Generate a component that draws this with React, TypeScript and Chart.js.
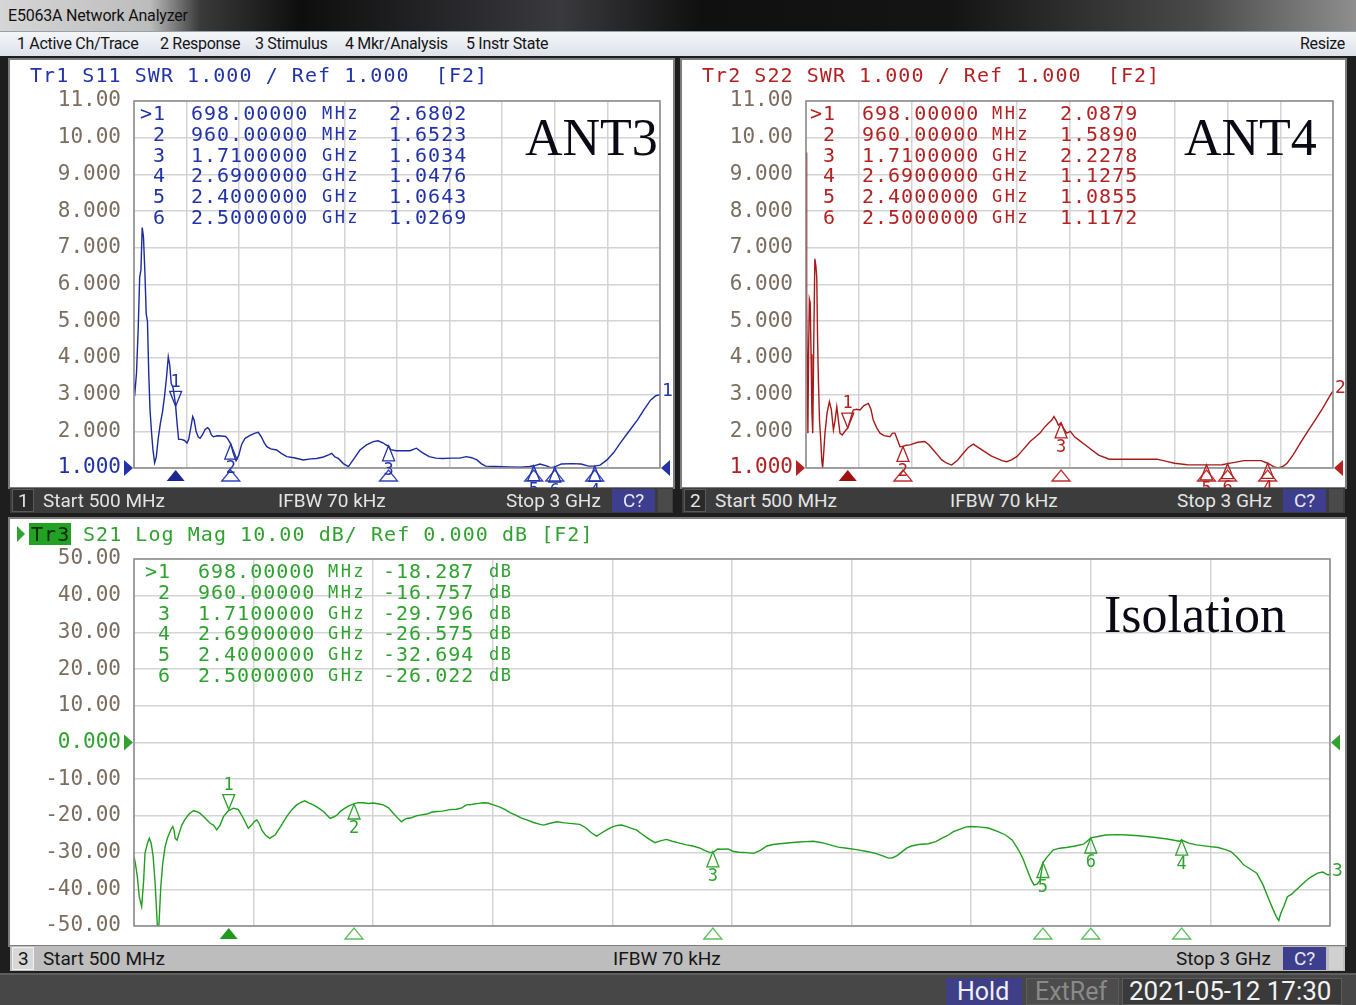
import React, { useEffect, useRef } from "react";
import { Chart, registerables } from "chart.js";

Chart.register(...registerables);

// ---------------- data ----------------
const freqStartMHz = 500;
const freqStopMHz = 3000;
const freqStepMHz = 250;

const markerNames = [">1", " 2", " 3", " 4", " 5", " 6"];
const markerFreqsMHz = [698, 960, 1710, 2690, 2400, 2500];
const markerFreqText = ["698.00000", "960.00000", "1.7100000", "2.6900000", "2.4000000", "2.5000000"];
const markerUnitText = ["MHz", "MHz", "GHz", "GHz", "GHz", "GHz"];

const s11MarkerValues = [2.6802, 1.6523, 1.6034, 1.0476, 1.0643, 1.0269];
const s22MarkerValues = [2.0879, 1.589, 2.2278, 1.1275, 1.0855, 1.1172];
const s21MarkerValues = [-18.287, -16.757, -29.796, -26.575, -32.694, -26.022];

const swrTicks = [1, 11, 1]; // min, max, step
const dbTicks = [-50, 50, 10];

const menuItems = ["1 Active Ch/Trace", "2 Response", "3 Stimulus", "4 Mkr/Analysis", "5 Instr State"];

const s11Freq = [500, 505, 512, 520, 527, 533, 539, 545, 552, 558, 564, 570, 576, 583, 590, 598, 606, 615, 625, 636, 646, 655, 663, 670, 677, 685, 692, 698, 705, 712, 725, 740, 752, 760, 770, 779, 786, 795, 805, 814, 825, 838, 850, 858, 868, 877, 895, 915, 935, 945, 960, 972, 985, 998, 1012, 1028, 1050, 1075, 1091, 1105, 1120, 1131, 1150, 1178, 1200, 1226, 1260, 1305, 1340, 1368, 1400, 1425, 1440, 1455, 1471, 1495, 1519, 1545, 1574, 1605, 1637, 1660, 1685, 1700, 1710, 1720, 1745, 1790, 1812, 1842, 1870, 1903, 1935, 1965, 2010, 2048, 2079, 2105, 2130, 2150, 2171, 2220, 2280, 2336, 2380, 2400, 2430, 2460, 2481, 2500, 2532, 2580, 2625, 2660, 2690, 2715, 2748, 2780, 2810, 2850, 2893, 2925, 2955, 2980, 3000];
const s11Swr = [3.3, 3.1, 3.6, 4.8, 6.2, 6.4, 7.55, 7.3, 6.3, 5.2, 5.0, 3.6, 2.6, 2.0, 1.5, 1.14, 1.3, 1.8, 2.2, 2.55, 3.0, 3.5, 4.03, 3.8, 3.3, 3.2, 2.95, 2.68, 2.2, 1.78, 1.78, 1.75, 1.68, 1.78, 2.1, 2.4, 2.3, 2.0, 1.85, 1.81, 1.9, 2.05, 2.1, 2.05, 1.9, 1.85, 1.88, 1.87, 1.86, 1.8, 1.65, 1.4, 1.2, 1.35, 1.65, 1.81, 1.88, 1.95, 1.97, 1.85, 1.68, 1.58, 1.52, 1.49, 1.4, 1.31, 1.28, 1.22, 1.25, 1.26, 1.3, 1.36, 1.4, 1.3, 1.26, 1.12, 1.04, 1.25, 1.49, 1.63, 1.72, 1.74, 1.68, 1.62, 1.6, 1.5, 1.47, 1.47, 1.47, 1.54, 1.42, 1.31, 1.27, 1.26, 1.27, 1.27, 1.31, 1.28, 1.22, 1.12, 1.05, 1.04, 1.03, 1.02, 1.04, 1.06, 1.11, 1.06, 1.01, 1.03, 1.11, 1.12, 1.11, 1.05, 1.05, 1.08, 1.22, 1.42, 1.67, 1.98, 2.31, 2.6, 2.85, 2.97, 3.0];

const s22Freq = [500, 503, 506, 509, 512, 516, 520, 524, 528, 532, 537, 542, 547, 551, 555, 558, 564, 570, 575, 579, 585, 590, 600, 611, 620, 630, 638, 646, 654, 661, 672, 685, 698, 712, 724, 740, 756, 775, 796, 808, 819, 835, 851, 870, 898, 910, 922, 935, 946, 960, 975, 993, 1030, 1064, 1085, 1104, 1125, 1144, 1168, 1191, 1220, 1246, 1270, 1294, 1320, 1349, 1378, 1405, 1430, 1452, 1475, 1500, 1530, 1563, 1590, 1610, 1630, 1650, 1665, 1676, 1687, 1697, 1710, 1720, 1737, 1754, 1774, 1790, 1836, 1888, 1939, 2000, 2080, 2165, 2210, 2248, 2309, 2400, 2474, 2500, 2540, 2577, 2620, 2659, 2690, 2720, 2741, 2765, 2782, 2810, 2844, 2880, 2916, 2950, 2988, 3000];
const s22Swr = [9.6, 5.5, 3.8, 1.95, 4.0, 5.6, 5.5, 4.1, 2.5, 1.95, 4.5, 6.7, 6.5, 6.2, 4.5, 3.6, 2.3, 1.76, 1.2, 1.0, 1.5, 1.95, 2.5, 2.81, 2.6, 2.04, 2.3, 2.67, 2.3, 1.95, 1.9, 2.0, 2.09, 2.35, 2.58, 2.6, 2.58, 2.7, 2.76, 2.6, 2.31, 2.1, 1.95, 1.88, 1.85, 1.95, 1.95, 1.75, 1.58, 1.59, 1.62, 1.63, 1.7, 1.72, 1.62, 1.49, 1.35, 1.22, 1.13, 1.08, 1.22, 1.4, 1.56, 1.65, 1.55, 1.44, 1.33, 1.26, 1.2, 1.17, 1.22, 1.31, 1.5, 1.72, 1.85, 1.95, 2.1, 2.22, 2.3, 2.4, 2.3, 2.17, 2.23, 2.1, 1.95, 2.0, 1.85, 1.78, 1.58, 1.35, 1.24, 1.24, 1.24, 1.24, 1.18, 1.13, 1.09, 1.085, 1.09, 1.12, 1.16, 1.2, 1.2, 1.2, 1.13, 1.03, 1.0, 1.05, 1.13, 1.35, 1.67, 2.0, 2.31, 2.62, 2.99, 3.1];

const s21Freq = [500, 503, 507, 511, 516, 520, 523, 528, 532, 536, 540, 544, 549, 552, 556, 560, 565, 570, 574, 578, 581, 584, 586, 590, 595, 600, 606, 615, 624, 631, 638, 648, 659, 666, 673, 680, 687, 697, 708, 718, 728, 739, 746, 752, 757, 762, 767, 775, 784, 790, 795, 807, 819, 830, 840, 848, 857, 866, 875, 886, 896, 904, 910, 917, 924, 932, 941, 950, 958, 968, 979, 990, 1000, 1010, 1021, 1032, 1042, 1050, 1059, 1065, 1070, 1080, 1090, 1098, 1112, 1122, 1133, 1145, 1160, 1174, 1185, 1195, 1205, 1220, 1230, 1240, 1251, 1265, 1276, 1286, 1300, 1310, 1321, 1335, 1349, 1356, 1370, 1384, 1400, 1416, 1432, 1445, 1456, 1467, 1478, 1488, 1500, 1510, 1519, 1530, 1540, 1550, 1560, 1572, 1580, 1589, 1600, 1613, 1625, 1640, 1655, 1668, 1683, 1695, 1704, 1712, 1720, 1728, 1742, 1753, 1765, 1780, 1795, 1810, 1823, 1836, 1850, 1871, 1890, 1905, 1920, 1938, 1955, 1972, 1990, 2010, 2032, 2050, 2065, 2077, 2086, 2095, 2105, 2115, 2125, 2140, 2160, 2176, 2190, 2200, 2213, 2227, 2240, 2249, 2265, 2286, 2305, 2322, 2336, 2349, 2358, 2367, 2375, 2381, 2388, 2394, 2400, 2408, 2421, 2435, 2449, 2467, 2485, 2500, 2515, 2531, 2555, 2576, 2600, 2631, 2660, 2685, 2690, 2705, 2721, 2745, 2766, 2780, 2793, 2807, 2820, 2835, 2847, 2860, 2870, 2880, 2888, 2893, 2897, 2904, 2911, 2920, 2929, 2942, 2956, 2965, 2974, 2985, 2996, 3000];
const s21Db = [-31.1, -33, -36.6, -42, -44.7, -38, -30.2, -27.5, -26.1, -27.5, -31.1, -38, -50.2, -50, -39.3, -33, -28.4, -26, -24.7, -23.5, -22.9, -24, -26.1, -26.6, -24.5, -22.5, -21.1, -19.5, -18.6, -18.8, -19.3, -20.5, -22.0, -22.5, -23.8, -22.5, -20.2, -18.6, -17.9, -18.2, -20.5, -23.4, -22.5, -21.5, -21.1, -22.2, -23.8, -25.3, -26.1, -25.6, -25.2, -22.8, -20.2, -18.3, -17.0, -16.4, -15.9, -16.5, -17.0, -17.9, -18.8, -19.9, -20.7, -20.3, -19.8, -18.7, -17.9, -17.2, -16.8, -16.4, -16.4, -16.6, -16.5, -16.7, -17.0, -17.8, -19.3, -20.4, -21.6, -21.0, -20.7, -20.5, -20.0, -19.8, -19.5, -19.0, -18.8, -18.7, -18.3, -18.2, -17.8, -17.0, -16.9, -16.6, -16.4, -16.5, -17.0, -17.6, -18.3, -19.1, -19.9, -20.6, -21.1, -21.8, -22.3, -22.5, -22.0, -21.6, -21.9, -22.1, -22.3, -23.3, -24.6, -25.5, -24.6, -23.8, -23.0, -22.6, -22.5, -22.9, -23.4, -23.8, -24.8, -25.9, -26.6, -27.3, -26.8, -26.4, -26.9, -27.4, -27.9, -28.2, -28.8, -29.5, -30.0, -29.8, -29.0, -29.1, -29.0, -29.7, -29.9, -30.0, -30.2, -29.3, -28.2, -27.8, -27.6, -27.3, -27.1, -27.0, -26.9, -27.3, -27.9, -28.5, -28.8, -29.2, -29.7, -30.2, -30.9, -31.5, -31.4, -30.8, -29.8, -28.8, -28.2, -27.8, -27.6, -27.0, -26.0, -25.4, -24.3, -23.6, -23.0, -22.9, -23.0, -23.3, -24.2, -25.2, -26.6, -29.3, -31.6, -34.7, -37.3, -38.8, -38.6, -37.5, -32.7, -31.3, -29.3, -28.8, -28.6, -28.2, -27.7, -26.0, -25.6, -25.2, -25.1, -25.2, -25.4, -25.8, -26.3, -26.9, -26.6, -27.4, -27.9, -28.3, -28.6, -29.1, -29.7, -31.4, -33.4, -34.6, -35.6, -38.8, -42.0, -45.2, -47.5, -48.5, -46.6, -44.5, -42.0, -41.3, -40.2, -38.6, -37.0, -36.3, -35.6, -35.3, -36.1, -35.8];

// ---------------- styling ----------------
const MONO = "'DejaVu Sans Mono', monospace";
const UI = "Roboto, 'Noto Sans', sans-serif";
const SERIF = "'Liberation Serif', 'Times New Roman', serif";
const BLUE = "#2233a8";
const BLUE_TRACE = "#1c2aa0";
const RED = "#b32222";
const RED_TRACE = "#a81a1a";
const GREEN = "#2fa22f";
const GREEN_TRACE = "#1f9e1f";
const AXIS_GRAY = "#7b6d60";

const swrFmt = (v: number) => (v >= 10 ? v.toFixed(2) : v.toFixed(3));
const dbFmt = (v: number) => (Math.abs(v) >= 10 ? v.toFixed(2) : v.toFixed(3));

function triPath(ctx: CanvasRenderingContext2D, pts: number[][]) {
  ctx.beginPath();
  ctx.moveTo(pts[0][0], pts[0][1]);
  for (let i = 1; i < pts.length; i++) ctx.lineTo(pts[i][0], pts[i][1]);
  ctx.closePath();
}

const vnaPlugin = {
  id: "vna",
  afterDatasetsDraw(chart: any, _args: any, opts: any) {
    const { ctx, chartArea: a } = chart;
    const x = chart.scales.x;
    const y = chart.scales.y;
    ctx.save();
    ctx.strokeStyle = "#8a8a8a";
    ctx.lineWidth = 1.5;
    ctx.strokeRect(a.left, a.top, a.right - a.left, a.bottom - a.top);
    const ry = y.getPixelForValue(opts.refValue);
    ctx.fillStyle = opts.color;
    triPath(ctx, [[a.left - 10, ry - 8], [a.left - 1, ry], [a.left - 10, ry + 8]]);
    ctx.fill();
    triPath(ctx, [[a.right + 10, ry - 8], [a.right + 1, ry], [a.right + 10, ry + 8]]);
    ctx.fill();
    ctx.font = `17px ${MONO}`;
    ctx.textAlign = "center";
    ctx.textBaseline = "middle";
    ctx.lineWidth = 1.3;
    opts.freqs.forEach((f: number, i: number) => {
      const px = x.getPixelForValue(f);
      const py = y.getPixelForValue(opts.values[i]);
      const by = a.bottom + 2;
      triPath(ctx, [[px - 9, by + 11], [px, by], [px + 9, by + 11]]);
      if (i === 0) {
        ctx.fillStyle = opts.activeColor;
        ctx.fill();
      } else {
        ctx.strokeStyle = opts.markerColor;
        ctx.stroke();
      }
      ctx.strokeStyle = opts.color;
      ctx.fillStyle = opts.color;
      if (i === 0) {
        triPath(ctx, [[px - 6, py - 15], [px + 6, py - 15], [px, py]]);
        ctx.stroke();
        ctx.fillText(String(i + 1), px, py - 24);
      } else {
        triPath(ctx, [[px - 6, py + 15], [px + 6, py + 15], [px, py]]);
        ctx.stroke();
        ctx.fillText(String(i + 1), px, py + 25);
      }
    });
    const ds = chart.data.datasets[0].data;
    const last = ds[ds.length - 1];
    ctx.textAlign = "left";
    ctx.font = `18px ${MONO}`;
    ctx.fillStyle = opts.color;
    ctx.fillText(opts.traceLabel, a.right + 2, y.getPixelForValue(last.y) - 3);
    ctx.restore();
  },
};

type ChartProps = {
  left: number;
  top: number;
  width: number;
  height: number;
  pad: { left: number; top: number; right: number; bottom: number };
  xs: number[];
  ys: number[];
  yTicks: number[];
  fmt: (v: number) => string;
  refValue: number;
  color: string;
  traceColor: string;
  markerColor: string;
  activeColor: string;
  markerValues: number[];
  traceLabel: string;
};

function VnaChart(p: ChartProps) {
  const ref = useRef<HTMLCanvasElement>(null);
  useEffect(() => {
    const chart = new Chart(ref.current as HTMLCanvasElement, {
      type: "line",
      data: {
        datasets: [
          {
            data: p.xs.map((f, i) => ({ x: f, y: p.ys[i] })),
            borderColor: p.traceColor,
            borderWidth: 1.4,
            pointRadius: 0,
            tension: 0,
            fill: false,
          },
        ],
      },
      options: {
        animation: false,
        responsive: false,
        maintainAspectRatio: false,
        events: [],
        layout: { autoPadding: false, padding: { left: 0, top: p.pad.top, right: p.pad.right, bottom: p.pad.bottom } },
        plugins: {
          legend: { display: false },
          tooltip: { enabled: false },
          vna: {
            refValue: p.refValue,
            color: p.color,
            markerColor: p.markerColor,
            activeColor: p.activeColor,
            freqs: markerFreqsMHz,
            values: p.markerValues,
            traceLabel: p.traceLabel,
          },
        } as any,
        scales: {
          x: {
            type: "linear",
            min: freqStartMHz,
            max: freqStopMHz,
            ticks: { display: false, stepSize: freqStepMHz },
            grid: { color: "#d4d4d4", lineWidth: 1.5, drawTicks: false },
            border: { display: false },
            afterFit: (s: any) => {
              s.height = 0;
            },
          },
          y: {
            type: "linear",
            min: p.yTicks[0],
            max: p.yTicks[1],
            ticks: {
              stepSize: p.yTicks[2],
              padding: 13,
              callback: (v: any) => p.fmt(Number(v)),
              color: (c: any) => (c.tick && c.tick.value === p.refValue ? p.color : AXIS_GRAY),
              font: { family: "DejaVu Sans Mono", size: 21 },
            },
            grid: { color: "#d4d4d4", lineWidth: 1.5, drawTicks: false },
            border: { display: false },
            afterFit: (s: any) => {
              s.width = p.pad.left;
            },
          },
        },
      },
      plugins: [vnaPlugin as any],
    });
    return () => chart.destroy();
  }, []);
  return (
    <canvas
      ref={ref}
      width={p.width}
      height={p.height}
      style={{ position: "absolute", left: p.left, top: p.top, width: p.width, height: p.height }}
    />
  );
}

function Txt(props: { x: number; y: number; children: any; style?: any }) {
  return (
    <div
      style={{
        position: "absolute",
        left: props.x,
        top: props.y,
        whiteSpace: "pre",
        lineHeight: 1,
        ...(props.style || {}),
      }}
    >
      {props.children}
    </div>
  );
}

function MarkerTable(props: { y0: number; color: string; values: string[]; cols: number[] }) {
  const rows = [];
  for (let i = 0; i < markerNames.length; i++) {
    const y = props.y0 + i * 20.8 - 10;
    const base = { fontFamily: MONO, fontSize: 20, letterSpacing: 1, color: props.color };
    rows.push(
      <React.Fragment key={i}>
        <Txt x={props.cols[0]} y={y} style={base}>{markerNames[i]}</Txt>
        <Txt x={props.cols[1]} y={y} style={base}>{markerFreqText[i]}</Txt>
        <Txt x={props.cols[2]} y={y + 2} style={{ ...base, fontSize: 17, letterSpacing: 2.4 }}>
          {markerUnitText[i]}
        </Txt>
        <Txt x={props.cols[3]} y={y} style={base}>{props.values[i]}</Txt>
      </React.Fragment>
    );
  }
  return <>{rows}</>;
}

function StatusBar(props: { x: number; y: number; w: number; n: string; dark: boolean; ifbwX: number; stopX: number; cX: number }) {
  const fg = props.dark ? "#e4e4e4" : "#161616";
  const bg = props.dark ? "#3c3c3c" : "#bdbdbd";
  const f = { fontFamily: UI, fontSize: 19, color: fg };
  return (
    <div style={{ position: "absolute", left: props.x, top: props.y, width: props.w, height: 25, background: bg }}>
      <div
        style={{
          position: "absolute",
          left: 2,
          top: 1,
          width: 22,
          height: 23,
          background: props.dark ? "#2a2a2a" : "#d8d8d8",
          border: props.dark ? "1px solid #5a5a5a" : "1px solid #f0f0f0",
          boxSizing: "border-box",
        }}
      />
      <Txt x={8} y={3} style={f}>{props.n}</Txt>
      <Txt x={33} y={3} style={f}>Start 500 MHz</Txt>
      <Txt x={props.ifbwX} y={3} style={f}>IFBW 70 kHz</Txt>
      <Txt x={props.stopX} y={3} style={f}>Stop 3 GHz</Txt>
      <div style={{ position: "absolute", left: props.cX, top: 1, width: 43, height: 23, background: "#3e3e8e" }} />
      <Txt x={props.cX + 11} y={3} style={{ ...f, color: "#e8e8f4" }}>C?</Txt>
      <div style={{ position: "absolute", left: props.cX + 46, top: 1, width: 14, height: 23, background: props.dark ? "#4a4a4a" : "#d0d0d0" }} />
    </div>
  );
}

export default function App() {
  const s11Vals = s11MarkerValues.map((v) => v.toFixed(4));
  const s22Vals = s22MarkerValues.map((v) => v.toFixed(4));
  const s21Vals = s21MarkerValues.map((v) => v.toFixed(3));
  const hdr = { fontFamily: MONO, fontSize: 20, letterSpacing: 1.05 };
  const menuX = [17, 160, 255, 345, 466];
  return (
    <div
      style={{
        position: "fixed",
        left: 0,
        top: 0,
        width: 1356,
        height: 1005,
        background: "#1e1e1e",
        overflow: "hidden",
        fontFamily: UI,
      }}
    >
      {/* title bar */}
      <div
        style={{
          position: "absolute",
          left: 0,
          top: 0,
          width: 1356,
          height: 31,
          background:
            "linear-gradient(to right, #d6d6d6 0px, #bcbcbc 150px, #3a3a3a 200px, #0e0e0e 300px, #2c2c30 480px, #3a3a3e 560px, #101010 700px, #141414 950px, #4a4a4a 1200px, #8e8e8e 1356px)",
        }}
      />
      <Txt x={8} y={8} style={{ fontFamily: UI, fontSize: 16, color: "#111", letterSpacing: -0.2 }}>E5063A Network Analyzer</Txt>
      {/* menu bar */}
      <div
        style={{
          position: "absolute",
          left: 0,
          top: 31,
          width: 1356,
          height: 25,
          background: "linear-gradient(#f4f6f9, #dde2ea)",
          borderTop: "1px solid #9aa0a8",
          boxSizing: "border-box",
        }}
      />
      {menuItems.map((m, i) => (
        <Txt key={m} x={menuX[i]} y={36} style={{ fontFamily: UI, fontSize: 16, color: "#151515", letterSpacing: -0.3 }}>{m}</Txt>
      ))}
      <Txt x={1300} y={36} style={{ fontFamily: UI, fontSize: 16, color: "#151515", letterSpacing: -0.3 }}>Resize</Txt>

      {/* panels */}
      <div style={{ position: "absolute", left: 8, top: 58, width: 667, height: 431, background: "#fff", border: "2px solid #7c7c7c", boxSizing: "border-box" }} />
      <div style={{ position: "absolute", left: 680, top: 58, width: 667, height: 431, background: "#fff", border: "2px solid #7c7c7c", boxSizing: "border-box" }} />
      <div style={{ position: "absolute", left: 8, top: 517, width: 1339, height: 430, background: "#fff", border: "2px solid #7c7c7c", boxSizing: "border-box" }} />

      <VnaChart
        left={10}
        top={60}
        width={663}
        height={435}
        pad={{ left: 124, top: 41, right: 13, bottom: 27 }}
        xs={s11Freq}
        ys={s11Swr}
        yTicks={swrTicks}
        fmt={swrFmt}
        refValue={1}
        color={BLUE}
        traceColor={BLUE_TRACE}
        markerColor="#3344b8"
        activeColor="#1a2590"
        markerValues={s11MarkerValues}
        traceLabel="1"
      />
      <VnaChart
        left={682}
        top={60}
        width={663}
        height={435}
        pad={{ left: 124, top: 41, right: 12, bottom: 27 }}
        xs={s22Freq}
        ys={s22Swr}
        yTicks={swrTicks}
        fmt={swrFmt}
        refValue={1}
        color={RED}
        traceColor={RED_TRACE}
        markerColor="#c03030"
        activeColor="#a01010"
        markerValues={s22MarkerValues}
        traceLabel="2"
      />
      <VnaChart
        left={10}
        top={519}
        width={1335}
        height={434}
        pad={{ left: 124, top: 40, right: 15, bottom: 27 }}
        xs={s21Freq}
        ys={s21Db}
        yTicks={dbTicks}
        fmt={dbFmt}
        refValue={0}
        color={GREEN}
        traceColor={GREEN_TRACE}
        markerColor="#5cc05c"
        activeColor="#1f9a1f"
        markerValues={s21MarkerValues}
        traceLabel="3"
      />

      {/* headers */}
      <Txt x={30} y={65} style={{ ...hdr, color: BLUE }}>{"Tr1 S11 SWR 1.000 / Ref 1.000  [F2]"}</Txt>
      <Txt x={702} y={65} style={{ ...hdr, color: RED }}>{"Tr2 S22 SWR 1.000 / Ref 1.000  [F2]"}</Txt>
      <div style={{ position: "absolute", left: 17, top: 526, width: 0, height: 0, borderTop: "8px solid transparent", borderBottom: "8px solid transparent", borderLeft: "8px solid " + GREEN }} />
      <div style={{ position: "absolute", left: 29, top: 523, width: 42, height: 22, background: "#24a024" }} />
      <Txt x={31} y={524} style={{ ...hdr, color: "#0c2c0c" }}>Tr3</Txt>
      <Txt x={83} y={524} style={{ ...hdr, color: GREEN }}>{"S21 Log Mag 10.00 dB/ Ref 0.000 dB [F2]"}</Txt>

      {/* marker tables */}
      <MarkerTable y0={113} color={BLUE} values={s11Vals} cols={[140, 191, 322, 389]} />
      <MarkerTable y0={113} color={RED} values={s22Vals} cols={[810, 862, 992, 1060]} />
      <MarkerTable y0={571} color={GREEN} values={s21Vals} cols={[145, 198, 328, 383]} />
      {s21Vals.map((_, i) => (
        <Txt key={i} x={489} y={571 + i * 20.8 - 8} style={{ fontFamily: MONO, fontSize: 17, letterSpacing: 1.5, color: GREEN }}>dB</Txt>
      ))}

      {/* big labels */}
      <Txt x={525} y={112} style={{ fontFamily: SERIF, fontSize: 52, color: "#0a0a14" }}>ANT3</Txt>
      <Txt x={1184} y={112} style={{ fontFamily: SERIF, fontSize: 52, color: "#0a0a14" }}>ANT4</Txt>
      <Txt x={1104} y={589} style={{ fontFamily: SERIF, fontSize: 52, color: "#0a0a14" }}>Isolation</Txt>

      {/* status bars */}
      <StatusBar x={10} y={488} w={663} n="1" dark={true} ifbwX={268} stopX={496} cX={602} />
      <StatusBar x={682} y={488} w={663} n="2" dark={true} ifbwX={268} stopX={495} cX={601} />
      <StatusBar x={10} y={946} w={1335} n="3" dark={false} ifbwX={603} stopX={1166} cX={1273} />

      {/* bottom bar */}
      <div style={{ position: "absolute", left: 0, top: 973, width: 1356, height: 32, background: "#474747", borderTop: "2px solid #5e5e5e", boxSizing: "border-box" }} />
      <div style={{ position: "absolute", left: 946, top: 978, width: 76, height: 27, background: "#3f3f88" }} />
      <Txt x={957} y={979} style={{ fontFamily: UI, fontSize: 25, color: "#f0f0f8" }}>Hold</Txt>
      <div style={{ position: "absolute", left: 1026, top: 978, width: 93, height: 27, background: "#4c4c4c", border: "1px solid #5c5c5c", boxSizing: "border-box" }} />
      <Txt x={1035} y={979} style={{ fontFamily: UI, fontSize: 25, color: "#8a8a8a" }}>ExtRef</Txt>
      <div style={{ position: "absolute", left: 1122, top: 978, width: 220, height: 27, background: "#3a3a3a", border: "1px solid #5c5c5c", boxSizing: "border-box" }} />
      <Txt x={1129} y={978} style={{ fontFamily: UI, fontSize: 26, color: "#f2f2f2" }}>2021-05-12 17:30</Txt>
    </div>
  );
}
